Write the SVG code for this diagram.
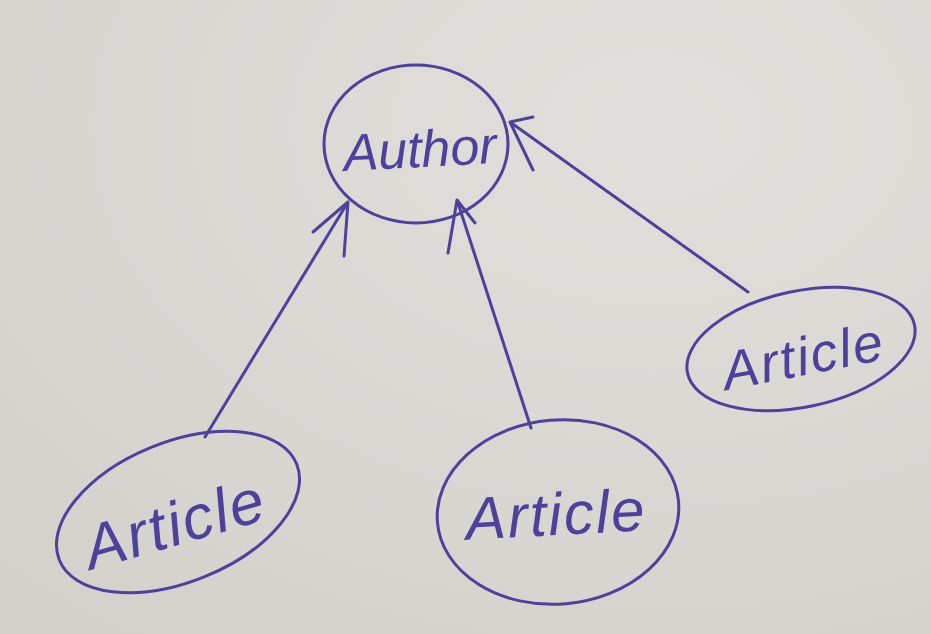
<svg xmlns="http://www.w3.org/2000/svg" width="931" height="634" viewBox="0 0 931 634">
<style>
.ink{fill:none;stroke:#4d419c;stroke-width:3;stroke-linecap:round;stroke-linejoin:round}
.lbl{fill:#4d419c;font-family:"Liberation Sans","DejaVu Sans",sans-serif;font-style:italic}
</style>
<defs>
<radialGradient id="bg" cx="0.7" cy="0.2" r="1">
<stop offset="0" stop-color="#e0dfdb"/>
<stop offset="1" stop-color="#d2d1cc"/>
</radialGradient>
</defs>
<rect width="931" height="634" fill="url(#bg)"/>
<g id="connectors">
<path class="ink" d="M205,437 L348,202 M313,232 L348,202 L344,256"/>
<path class="ink" d="M531,428 L457,200 M448,253 L457,200 L475,223"/>
<path class="ink" d="M748,292 L510,122 M533,117 L510,122 L533,170"/>
</g>
<g id="author">
<ellipse class="ink" cx="416" cy="144" rx="92" ry="79"/>
<text class="lbl" x="420" y="167" font-size="52" text-anchor="middle" transform="rotate(-3 420 150)">Author</text>
</g>
<g id="article-left">
<ellipse class="ink" cx="178" cy="512" rx="128" ry="70" transform="rotate(-22 178 512)"/>
<text class="lbl" x="175" y="545" font-size="62" text-anchor="middle" letter-spacing="2" transform="rotate(-16 175 525)">Article</text>
</g>
<g id="article-middle">
<ellipse class="ink" cx="558" cy="512" rx="121" ry="92" transform="rotate(-5 558 512)"/>
<text class="lbl" x="556" y="535" font-size="60" text-anchor="middle" letter-spacing="2" transform="rotate(-3 556 515)">Article</text>
</g>
<g id="article-right">
<ellipse class="ink" cx="801" cy="349" rx="116" ry="58" transform="rotate(-12 801 349)"/>
<text class="lbl" x="803" y="375" font-size="54" text-anchor="middle" letter-spacing="2" transform="rotate(-11 803 355)">Article</text>
</g>
</svg>
